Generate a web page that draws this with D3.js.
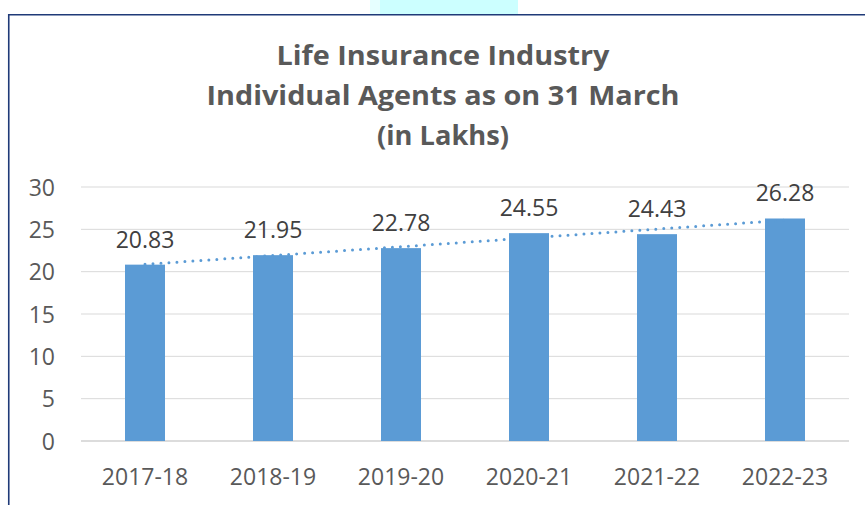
<!DOCTYPE html>
<html><head><meta charset="utf-8">
<script src="https://cdn.jsdelivr.net/npm/d3@7"></script>
<style>html,body{margin:0;padding:0;background:#fff;}svg{display:block;}</style>
</head><body>
<svg id="c" width="865" height="505"></svg>
<script>
const categories = ["2017-18","2018-19","2019-20","2020-21","2021-22","2022-23"];
const agents = [20.83, 21.95, 22.78, 24.55, 24.43, 26.28];
const yTicks = [0,5,10,15,20,25,30];
const titleLines = ["Life Insurance Industry","Individual Agents as on 31 March","(in Lakhs)"];

const svg = d3.select("#c");
const W = 865, H = 505;

// decorative frame
svg.append("rect").attr("x",380).attr("y",0).attr("width",138).attr("height",14).attr("fill","#ccffff");
svg.append("rect").attr("x",370).attr("y",0).attr("width",10).attr("height",14).attr("fill","#e6ffff");
svg.append("path").attr("d","M8.75,505V14.75H865").attr("fill","none").attr("stroke","#1f3a78").attr("stroke-width",1.6);

const x = d3.scaleBand().domain(categories).range([81,849]).paddingInner(0.6875).paddingOuter(0.34375);
const y = d3.scaleLinear().domain([0,30]).range([441,187]);

// gridlines
svg.append("g").selectAll("line").data(yTicks).join("line")
  .attr("x1",81).attr("x2",849).attr("y1",d=>y(d)).attr("y2",d=>y(d))
  .attr("stroke",d=>d===0?"#d0d0d0":"#d9d9d9").attr("stroke-width",d=>d===0?1.5:1);

// y axis
const yAxis = d3.axisLeft(y).tickValues(yTicks).tickSize(0).tickPadding(0);
const gy = svg.append("g").attr("transform","translate(55,0)").call(yAxis);
gy.select(".domain").remove();
gy.selectAll("text").attr("font-family","'Open Sans',sans-serif").attr("font-size",23).attr("fill","#595959").attr("dy","0.35em");

// x axis
const xAxis = d3.axisBottom(x).tickSize(0).tickPadding(0);
const gx = svg.append("g").attr("transform","translate(0,485)").call(xAxis);
gx.select(".domain").remove();
gx.selectAll("text").attr("font-family","'Open Sans',sans-serif").attr("font-size",23).attr("fill","#595959").attr("dy",0);

// bars
svg.append("g").selectAll("rect").data(agents).join("rect")
  .attr("x",(d,i)=>x(categories[i])).attr("width",x.bandwidth())
  .attr("y",d=>y(d)).attr("height",d=>y(0)-y(d)).attr("fill","#5b9bd5");

// linear trendline
const n = agents.length;
const mx = d3.mean(agents,(d,i)=>i), my = d3.mean(agents);
const slope = d3.sum(agents,(d,i)=>(i-mx)*(d-my))/d3.sum(agents,(d,i)=>(i-mx)*(i-mx));
const icpt = my - slope*mx;
const cx = i => x(categories[i]) + x.bandwidth()/2;
svg.append("line")
  .attr("x1",cx(0)).attr("y1",y(icpt)).attr("x2",cx(n-1)).attr("y2",y(icpt+slope*(n-1)))
  .attr("stroke","#5b9bd5").attr("stroke-width",3).attr("stroke-linecap","round").attr("stroke-dasharray","0 8");

// data labels
svg.append("g").selectAll("text").data(agents).join("text")
  .attr("x",(d,i)=>cx(i)).attr("y",d=>y(d)-17).attr("text-anchor","middle")
  .attr("font-family","'Open Sans',sans-serif").attr("font-size",23).attr("fill","#404040")
  .text(d=>d.toFixed(2));

// title
const tw = [333,473,132];
const tb = [65,105,145];
svg.append("g").selectAll("text").data(titleLines).join("text")
  .attr("x",443).attr("y",(d,i)=>tb[i]).attr("text-anchor","middle")
  .attr("font-family","'Comic Sans MS','Open Sans',sans-serif").attr("font-weight","bold").attr("font-size",26)
  .attr("fill","#595959").attr("textLength",(d,i)=>tw[i]).attr("lengthAdjust","spacingAndGlyphs")
  .text(d=>d);
</script>
</body></html>
